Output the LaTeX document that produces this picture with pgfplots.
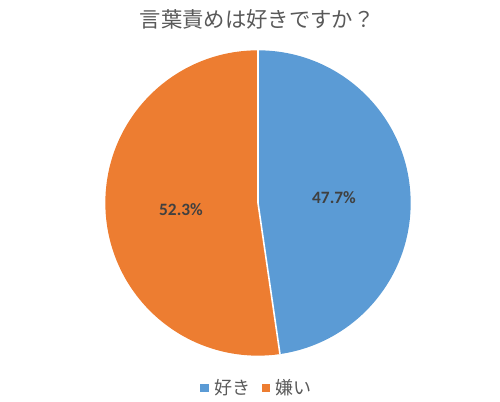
\documentclass[border=0pt]{standalone}
\usepackage{fontspec}
\setmainfont{Carlito}
\newfontfamily\jp{Noto Sans CJK JP}
\usepackage{pgfplots}
\usepackage{pgfplotstable}
\pgfplotsset{compat=1.18}

\definecolor{sliceblue}{HTML}{5B9BD5}
\definecolor{sliceorange}{HTML}{ED7D31}
\definecolor{labelgray}{HTML}{404040}
\definecolor{textgray}{HTML}{595959}

% share of answers, percent
\pgfplotstableread{
label value
suki  47.7
kirai 52.3
}\pietable

\begin{document}
\begin{tikzpicture}
  \pgfplotstablegetelem{0}{value}\of\pietable\let\vsuki\pgfplotsretval
  \pgfplotstablegetelem{1}{value}\of\pietable\let\vkirai\pgfplotsretval
  \pgfmathsetmacro{\asuki}{-3.6*\vsuki}
  \pgfmathsetmacro{\akirai}{3.6*\vkirai}
  \begin{axis}
    [
      at={(0pt,0pt)}, anchor=south west,
      scale only axis,
      width=375pt,
      height=301.5pt,
      xmin=0, xmax=500,
      ymin=0, ymax=402,
      hide axis,
      clip=false,
      legend columns=2,
      legend style={
          at={(0.515,0.035)}, anchor=center,
          draw=none, fill=none, inner sep=0pt,
          font=\jp\fontsize{13.5pt}{15pt}\selectfont\color{textgray},
          /tikz/every even column/.append style={column sep=6pt},
        },
      legend image code/.code={
          \fill[#1] (0pt,-2.7pt) rectangle (5.4pt,2.7pt);
        },
    ]
    \addlegendimage{sliceblue}
    \addlegendentry{\hspace{3pt}好き}
    \addlegendimage{sliceorange}
    \addlegendentry{\hspace{3pt}嫌い}

    % slices, clockwise from twelve o'clock
    \fill[sliceblue] (axis cs:258,199) -- ++(90:114.5pt)
      arc[start angle=90, delta angle=\asuki, radius=114.5pt] -- cycle;
    \fill[sliceorange] (axis cs:258,199) -- ++(90:114.5pt)
      arc[start angle=90, delta angle=\akirai, radius=114.5pt] -- cycle;
    \draw[white, line width=1.2pt] (axis cs:258,199) -- ++(90:114.5pt);
    \draw[white, line width=1.2pt] (axis cs:258,199) -- ++(90+\asuki:114.5pt);

    \node[font=\bfseries\fontsize{13pt}{15pt}\selectfont, text=labelgray]
      at (axis cs:334,204) {\vsuki\%};
    \node[font=\bfseries\fontsize{13pt}{15pt}\selectfont, text=labelgray]
      at (axis cs:181,192) {\vkirai\%};

    \node[font=\jp\fontsize{16pt}{18pt}\selectfont, text=textgray]
      at (axis cs:257,383) {言葉責めは好きですか？};
  \end{axis}
  \pgfresetboundingbox
  \useasboundingbox (0pt,0pt) rectangle (375pt,301.5pt);
\end{tikzpicture}
\end{document}
